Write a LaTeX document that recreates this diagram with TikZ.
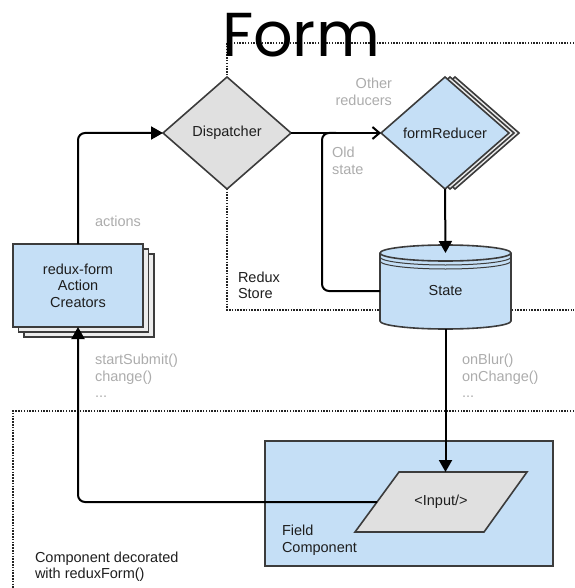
\documentclass[tikz,border=0pt]{standalone}
\usepackage{fontspec}
\setmainfont{Liberation Sans}
\newfontfamily\titlefont{Poppins}
\usetikzlibrary{arrows.meta,shapes.geometric,calc}
\definecolor{boxblue}{RGB}{197,223,246}
\definecolor{boxgray}{RGB}{224,224,224}
\definecolor{stackgray}{RGB}{236,236,236}
\definecolor{edge}{RGB}{60,60,60}
\definecolor{dots}{RGB}{35,35,35}
\definecolor{note}{RGB}{172,172,172}
\definecolor{ink}{RGB}{30,30,30}
\begin{document}
\begin{tikzpicture}[x=1pt,y=1pt,
  every node/.style={inner sep=0pt, outer sep=0pt},
  txt/.style={font=\fontsize{14.5}{16.5}\selectfont, text=ink},
  notetxt/.style={font=\fontsize{14.5}{16.5}\selectfont, text=note},
  shapeline/.style={draw=edge, line width=1.6pt},
  bluebox/.style={shapeline, fill=boxblue},
  graybox/.style={shapeline, fill=boxgray},
  stackbox/.style={shapeline, fill=stackgray},
  diamondbox/.style={diamond, minimum width=128pt, minimum height=112pt},
  acbox/.style={rectangle, minimum width=130pt, minimum height=83pt},
  conn/.style={draw=black, line width=2pt, rounded corners=7pt},
  tri/.style={-{Triangle[length=12pt,width=13pt]}},
  barb/.style={-{Straight Barb[length=7pt,width=12pt]}},
  region/.style={draw=dots, line width=1.9pt, dash pattern=on 1.5pt off 1.3pt},
]
\useasboundingbox (0,0) rectangle (574,-588);

% store and component regions
\draw[region] (574,-43) -- (227,-43) -- (227,-310) -- (574,-310);
\draw[region] (574,-411) -- (13,-411) -- (13,-588);

% title
\node[font=\titlefont\fontsize{62}{62}\selectfont, anchor=base, text=black] (title) at (301,-57) {Form};

% dispatcher
\node[graybox, diamondbox, txt] (disp) at (227,-133) {Dispatcher};

% reducer stack
\node[stackbox, diamondbox] (redback2) at (455,-133) {};
\node[stackbox, diamondbox] (redback1) at (450,-133) {};
\node[bluebox, diamondbox, txt] (red) at (445,-133) {formReducer};

% action creator stack
\node[stackbox, acbox] (acback2) at (89,-295.5) {};
\node[stackbox, acbox] (acback1) at (83.5,-290.5) {};
\node[bluebox, acbox, txt, align=center] (ac) at (78,-285.5) {redux-form\\Action\\Creators};

% state cylinder
\coordinate (cyltop) at (445.5,-253);
\coordinate (cylbot) at (445.5,-321);
\path[bluebox] ([xshift=-65.5pt]cyltop) -- ([xshift=-65.5pt]cylbot)
  arc[start angle=180, end angle=360, x radius=65.5pt, y radius=8pt]
  -- ([xshift=65.5pt]cyltop)
  arc[start angle=0, end angle=180, x radius=65.5pt, y radius=8pt] -- cycle;
\draw[shapeline] ([xshift=-65.5pt]cyltop)
  arc[start angle=180, end angle=360, x radius=65.5pt, y radius=8pt];
\draw[draw=edge, line width=1pt] ([xshift=-65.5pt, yshift=-4pt]cyltop)
  arc[start angle=180, end angle=360, x radius=65.5pt, y radius=8pt];
\draw[draw=edge, line width=1pt] ([xshift=-65.5pt, yshift=-8pt]cyltop)
  arc[start angle=180, end angle=360, x radius=65.5pt, y radius=8pt];
\node[txt, minimum width=131pt, minimum height=76pt] (state) at (445.5,-291) {State};

% field component with its input (a parallelogram sheared from a 128x60 box)
\node[bluebox, minimum width=288pt, minimum height=125pt] (field) at (409,-503.5) {};
\node[txt, align=left, anchor=west] (fieldlabel) at (282,-540) {Field\\Component};
\coordinate (inputc) at (441,-502);
\draw[graybox, line join=miter] ($(inputc)+(-86,-30)$) -- ($(inputc)+(43,-30)$)
  -- ($(inputc)+(86,30)$) -- ($(inputc)+(-42,30)$) -- cycle;
\node[txt, minimum width=128pt, minimum height=60pt] (input) at (inputc) {<Input/>};

% connectors
\coordinate (oldjoin) at (322,-133);
\draw[conn, tri] (ac.north) |- (disp.west);
\draw[conn, barb] (disp.east) -- (red.west);
\draw[conn] (state.west) -| (oldjoin) -- ++(14,0);
\draw[conn, tri] (red.south) -- (state.north);
\draw[conn, tri] (state.south) -- (state.south |- input.north);
\draw[conn, tri] (input.west) -| (ac.south);

% labels
\node[notetxt, anchor=west] (lblactions) at (95,-221) {actions};
\node[notetxt, align=right, anchor=east] (lblother) at (392,-92) {Other\\reducers};
\node[notetxt, align=left, anchor=west] (lblold) at (332,-161) {Old\\state};
\node[txt, align=left, anchor=west] (lblstore) at (238,-285.5) {Redux\\Store};
\node[notetxt, align=left, anchor=west] (lblcalls) at (95,-376) {startSubmit()\\change()\\...};
\node[notetxt, align=left, anchor=west] (lblevents) at (462,-376) {onBlur()\\onChange()\\...};
\node[txt, align=left, anchor=west] (lblcomp) at (35,-566.5) {Component decorated\\with reduxForm()};
\end{tikzpicture}
\end{document}
